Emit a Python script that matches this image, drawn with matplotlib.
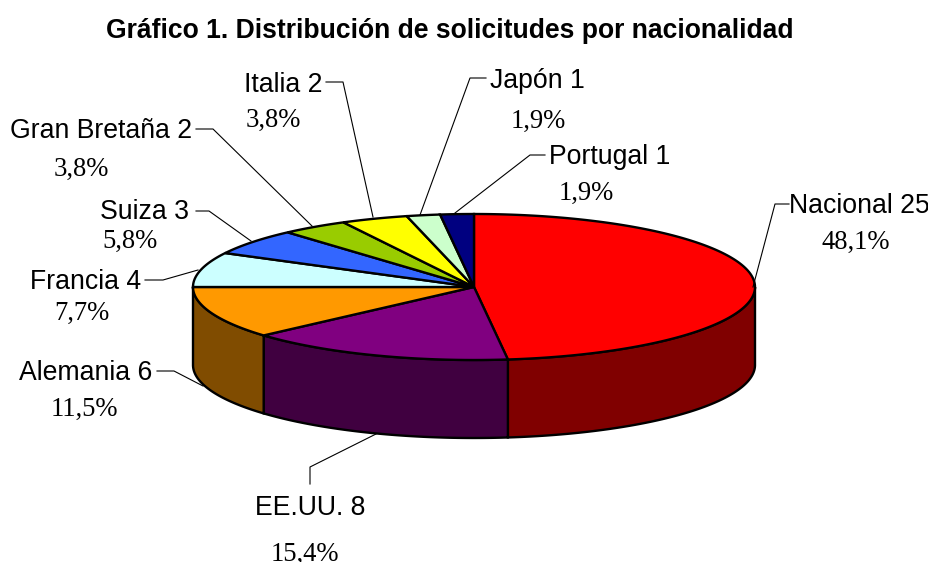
import numpy as np
from matplotlib import pyplot as plt

names = ["Nacional", "EE.UU.", "Alemania", "Francia", "Suiza", "Gran Bretaña", "Italia", "Japón", "Portugal"]
counts = [25, 8, 6, 4, 3, 2, 2, 1, 1]
pcts = ["48,1%", "15,4%", "11,5%", "7,7%", "5,8%", "3,8%", "3,8%", "1,9%", "1,9%"]
colors = ["#FF0000", "#800080", "#FF9900", "#CCFFFF", "#3366FF", "#99CC00", "#FFFF00", "#CCFFCC", "#000080"]
sides = ["#800000", "#400040", "#804C00", "#668080", "#1A3380", "#4C6600", "#808000", "#668066", "#000040"]

# label centre, percent centre, leader line
label_pos = [(859, 206), (310, 508), (86, 373), (86, 282), (145, 212), (101, 131), (283, 85), (537, 81), (610, 157)]
pct_pos = [(856, 242), (305, 554), (84, 409), (82, 313), (130, 241), (81, 169), (273, 120), (538, 121), (586, 193)]
leaders = [
    [(789, 204), (775, 204), (753, 287)],
    [(310, 484), (310, 467), (376, 434)],
    [(157, 371), (174, 371), (203, 386)],
    [(145, 280), (163, 280), (198, 270)],
    [(196, 211), (209, 211), (251, 241)],
    [(196, 129), (213, 129), (312, 226)],
    [(326, 82), (343, 82), (373, 217)],
    [(486, 78), (470, 78), (420, 215)],
    [(545, 155), (530, 155), (455, 213)],
]

cx, cy, rx, ry, depth = 474, 287, 281, 73, 78

fig = plt.figure(figsize=(9.29, 5.62), dpi=100)
ax = fig.add_axes([0, 0, 1, 1])
ax.set_xlim(0, 929)
ax.set_ylim(562, 0)
ax.axis("off")

edges = np.cumsum([0] + counts) / sum(counts) * 2 * np.pi


def arc(a, b):
    t = np.linspace(a, b, 200)
    return cx + rx * np.sin(t), cy - ry * np.cos(t)


# walls (only the front half of the ellipse can be seen)
for i in range(len(counts)):
    a = max(edges[i], np.pi / 2)
    b = min(edges[i + 1], 3 * np.pi / 2)
    if b <= a:
        continue
    x, y = arc(a, b)
    ax.fill(np.r_[x, x[::-1]], np.r_[y, y[::-1] + depth], facecolor=sides[i], edgecolor="black", lw=1.7)

# top face
for i in range(len(counts)):
    x, y = arc(edges[i], edges[i + 1])
    ax.fill(np.r_[cx, x], np.r_[cy, y], facecolor=colors[i], edgecolor="black", lw=1.7)

for i in range(len(names)):
    lx, ly = zip(*leaders[i])
    ax.plot(lx, ly, color="black", lw=0.8)
    ax.text(label_pos[i][0], label_pos[i][1], f"{names[i]} {counts[i]}", family="Liberation Sans", fontsize=19.2,
            ha="center", va="center")
    ax.text(pct_pos[i][0], pct_pos[i][1], pcts[i], family="Liberation Serif", fontsize=19.2, ha="center", va="center")

ax.text(450, 31, "Gráfico 1. Distribución de solicitudes por nacionalidad", family="Liberation Sans",
        fontsize=19.1, fontweight="bold", ha="center", va="center")

plt.savefig("out.png", dpi=100)
